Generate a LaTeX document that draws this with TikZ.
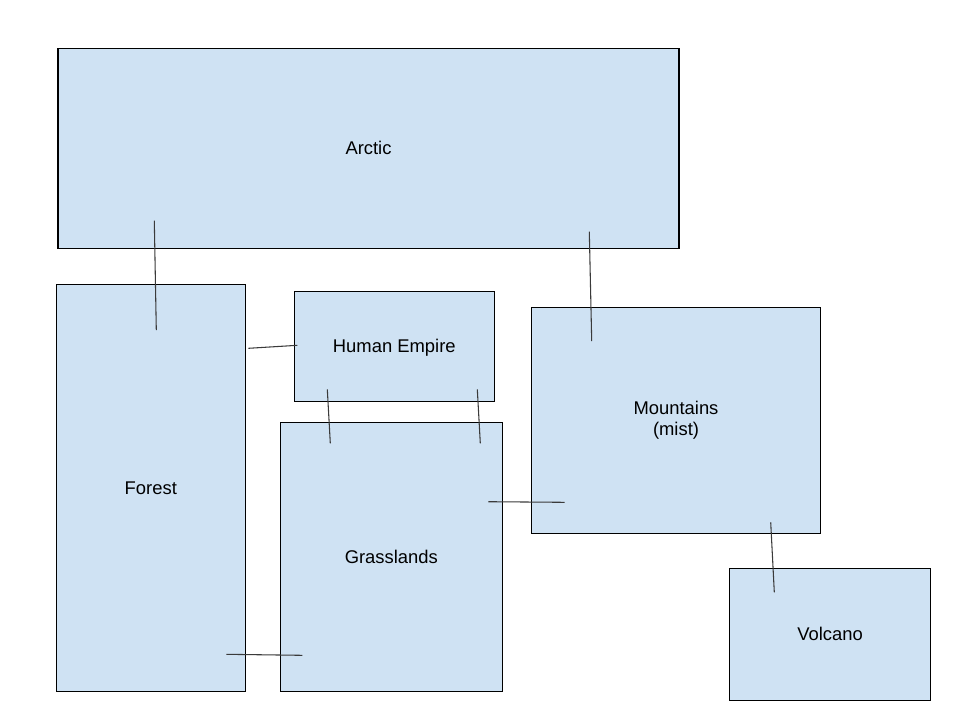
\documentclass[tikz,border=0pt]{standalone}
\usepackage{fontspec}
\setmainfont{Liberation Sans}
\usetikzlibrary{positioning}
\definecolor{Ice}{HTML}{CFE2F3}
\definecolor{Edge}{HTML}{000000}
\definecolor{Link}{HTML}{3A3A3A}
\tikzset{
  region/.style={
    rectangle, draw=Edge, line width=0.8pt, fill=Ice,
    inner sep=0pt, align=center, text height=10pt, text depth=0pt,
    font=\fontsize{13.8}{15.8}\selectfont
  },
  link/.style={draw=Link, line width=0.8pt}
}
\begin{document}
\begin{tikzpicture}[x=0.75pt,y=-0.75pt]
    \useasboundingbox (0,0) rectangle (955,719);
    \node[region,minimum width=465.75pt,minimum height=150pt] (arctic) at (368.5,148.3) {Arctic};
    \node[region,minimum width=141.75pt,minimum height=305.25pt] (forest) at (150.8,487.8) {Forest};
    \node[region,minimum width=150pt,minimum height=82.5pt] (empire) at (394.3,346.3) {Human Empire};
    \node[region,minimum width=166.5pt,minimum height=201.75pt] (grass) at (391.3,556.8) {Grasslands};
    \node[region,minimum width=216.5pt,minimum height=169.5pt,text height=,text depth=] (mount) at (676,420.3) {Mountains\\(mist)};
    \node[region,minimum width=150.75pt,minimum height=98.8pt] (volcano) at (830,634.2) {Volcano};
    % link ends sit inside the regions
    \coordinate (arcticW) at (154.3,220.7);
    \coordinate (forestN) at (156.3,330);
    \coordinate (arcticE) at (589.3,231.7);
    \coordinate (mountN) at (591.7,341);
    \coordinate (forestE) at (248.3,348.3);
    \coordinate (empireW) at (297.3,345.3);
    \coordinate (empireSW) at (327.3,389.3);
    \coordinate (grassNW) at (330.3,443.3);
    \coordinate (empireSE) at (477.3,389.3);
    \coordinate (grassNE) at (480.3,443.3);
    \coordinate (grassE) at (488.3,501.7);
    \coordinate (mountW) at (564.7,502.3);
    \coordinate (mountS) at (770.7,522.3);
    \coordinate (volcanoN) at (774.3,592.3);
    \coordinate (forestSE) at (226.3,654.3);
    \coordinate (grassSW) at (302.3,655.3);
    \draw[link] (arcticW)--(forestN);
    \draw[link] (arcticE)--(mountN);
    \draw[link] (forestE)--(empireW);
    \draw[link] (empireSW)--(grassNW);
    \draw[link] (empireSE)--(grassNE);
    \draw[link] (grassE)--(mountW);
    \draw[link] (mountS)--(volcanoN);
    \draw[link] (forestSE)--(grassSW);
  \end{tikzpicture}
\end{document}
